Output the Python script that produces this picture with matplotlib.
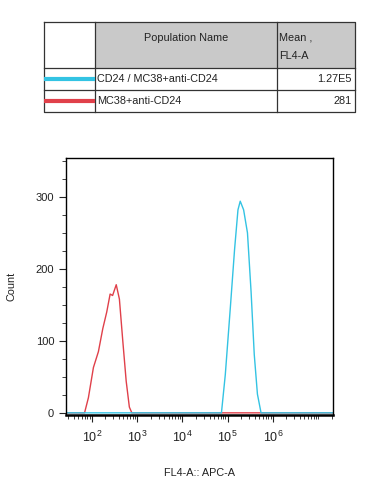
import numpy as np
import matplotlib
matplotlib.use("Agg")
import matplotlib.pyplot as plt
from matplotlib.ticker import LogLocator, FixedLocator, NullFormatter, FuncFormatter

plt.rcParams["font.family"] = ["Liberation Sans", "DejaVu Sans"]

# legend table
populations = ["CD24 / MC38+anti-CD24", "MC38+anti-CD24"]
means = ["1.27E5", "281"]
line_colors = ["#33c3e3", "#e0404a"]

# histogram traces (log10 of FL4-A, count)
red_logx = [1.43, 1.84, 1.925, 2.036, 2.146, 2.243, 2.33, 2.405, 2.46, 2.54,
            2.61, 2.686, 2.76, 2.83, 2.885, 7.33]
red_count = [0, 0, 21, 63, 85, 117, 140, 165, 163, 178, 158, 99, 44, 8, 0, 0]
cyan_logx = [1.43, 4.865, 4.95, 5.06, 5.155, 5.23, 5.28, 5.355, 5.44, 5.52,
             5.59, 5.66, 5.74, 7.33]
cyan_count = [0, 0, 53, 145, 227, 282, 294, 282, 250, 168, 81, 26, 0, 0]

fig = plt.figure(figsize=(3.77, 4.91), dpi=100)

# ---- table ----
W, H = 377, 491
tx0, ty0, tw, th = 44, 22, 311, 90
tab = fig.add_axes([tx0 / W, 1 - (ty0 + th) / H, tw / W, th / H])
tab.set_xlim(0, tw)
tab.set_ylim(th, 0)
tab.axis("off")
c1, c2 = 51, 233
r1, r2 = 46, 68
tab.add_patch(plt.Rectangle((c1, 0), tw - c1, r1, facecolor="#c9c9c9", edgecolor="none"))
lk = dict(color="#333333", lw=0.9, clip_on=False)
tab.plot([0, tw, tw, 0, 0], [0, 0, th, th, 0], **lk)
tab.plot([c1, c1], [0, th], **lk)
tab.plot([c2, c2], [0, th], **lk)
tab.plot([0, tw], [r1, r1], **lk)
tab.plot([0, tw], [r2, r2], **lk)
tfs = 7.8
tab.text((c1 + c2) / 2, 16, "Population Name", ha="center", va="center", fontsize=tfs, color="#222222")
tab.text(c2 + 2, 15, "Mean ,", ha="left", va="center", fontsize=tfs, color="#222222")
tab.text(c2 + 2, 34, "FL4-A", ha="left", va="center", fontsize=tfs, color="#222222")
rows_y = [(r1 + r2) / 2, (r2 + th) / 2]
for name, m, col, yy in zip(populations, means, line_colors, rows_y):
    tab.plot([0, c1], [yy, yy], color=col, lw=3, solid_capstyle="butt")
    tab.text(c1 + 2, yy, name, ha="left", va="center", fontsize=tfs, color="#222222")
    tab.text(tw - 3, yy, m, ha="right", va="center", fontsize=tfs, color="#222222")

# ---- histogram ----
ax = fig.add_axes([66 / W, 1 - 415 / H, 267 / W, 257 / H])
ax.plot(10 ** np.array(red_logx), red_count, color=line_colors[1], lw=1.0)
ax.plot(10 ** np.array(cyan_logx), cyan_count, color=line_colors[0], lw=1.0)
ax.set_xscale("log")
ax.set_xlim(10 ** 1.43, 10 ** 7.33)
ax.set_ylim(-3, 354)

ax.xaxis.set_major_locator(FixedLocator([1e2, 1e3, 1e4, 1e5, 1e6]))
ax.xaxis.set_minor_locator(LogLocator(base=10, subs=np.arange(1, 10), numticks=20))
ax.xaxis.set_minor_formatter(NullFormatter())
ax.xaxis.set_major_formatter(FuncFormatter(lambda v, p: r"$\mathregular{10^{%d}}$" % round(np.log10(v))))
ax.set_yticks([0, 100, 200, 300])
ax.set_yticks(np.arange(0, 351, 25), minor=True)

ax.tick_params(axis="both", which="major", labelsize=8, colors="#222222", direction="out", length=5, width=0.8)
ax.tick_params(axis="x", which="major", labelsize=9, pad=6)
ax.tick_params(axis="both", which="minor", direction="out", length=3, width=0.6, colors="#222222")
for s in ax.spines.values():
    s.set_linewidth(1.0)
ax.spines["bottom"].set_linewidth(1.8)

ax.set_ylabel("Count", fontsize=7.8, color="#222222", labelpad=14)
ax.set_xlabel("FL4-A:: APC-A", fontsize=7.8, color="#222222", labelpad=16)

fig.savefig("out.png", dpi=100)
